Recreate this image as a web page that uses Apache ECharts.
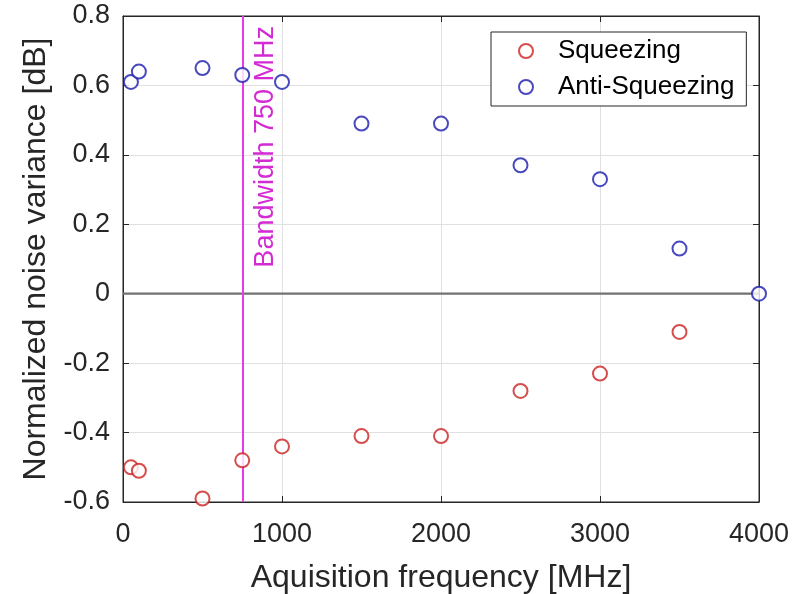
<!DOCTYPE html>
<html>
<head>
<meta charset="utf-8">
<script src="https://cdn.jsdelivr.net/npm/echarts@6/dist/echarts.min.js"></script>
<style>html,body{margin:0;padding:0;background:#fff;}#c{width:802px;height:594px;}</style>
</head>
<body>
<div id="c"></div>
<script>
const frequencies = [50, 100, 500, 750, 1000, 1500, 2000, 2500, 3000, 3500, 4000];
const squeezing = [-0.50, -0.51, -0.59, -0.48, -0.44, -0.41, -0.41, -0.28, -0.23, -0.11, null];
const antiSqueezing = [0.61, 0.64, 0.65, 0.63, 0.61, 0.49, 0.49, 0.37, 0.33, 0.13, 0.00];
const bandwidth = 750;
const bandwidthLabel = 'Bandwidth 750 MHz';
const xTitle = 'Aquisition frequency [MHz]';
const yTitle = 'Normalized noise variance [dB]';
const seriesNames = ['Squeezing', 'Anti-Squeezing'];
const xRange = [0, 4000];
const zeroLevel = 0;

const toPairs = vals => frequencies.map((f, i) => vals[i] === null ? null : [f, vals[i]]).filter(p => p);

const font = 'Liberation Sans, Arial, Helvetica, sans-serif';
const txt = '#262626';
const chart = echarts.init(document.getElementById('c'));

const xBase = {
  type: 'value', min: xRange[0], max: xRange[1], interval: 1000
};
const yBase = {
  type: 'value', min: -0.6, max: 0.8, interval: 0.2
};

chart.setOption({
  animation: false,
  backgroundColor: '#fff',
  grid: { left: 123, right: 43, top: 16, bottom: 92, show: true, borderColor: txt, borderWidth: 1,
    containLabel: false, outerBoundsMode: 'none' },
  xAxis: [
    Object.assign({}, xBase, {
      position: 'bottom',
      name: xTitle, nameLocation: 'middle', nameGap: 60,
      nameTextStyle: { fontFamily: font, fontSize: 32, color: txt },
      axisLine: { show: true, onZero: false, lineStyle: { color: txt, width: 1 } },
      axisTick: { show: true, inside: true, length: 6, lineStyle: { color: txt } },
      axisLabel: { fontFamily: font, fontSize: 27, color: txt, margin: 19,
        formatter: v => String(Math.round(v)) },
      splitLine: { show: true, lineStyle: { color: '#e0e0e0', width: 1 } }
    }),
    Object.assign({}, xBase, {
      position: 'top',
      axisLine: { show: true, onZero: false, lineStyle: { color: txt, width: 1 } },
      axisTick: { show: true, inside: true, length: 6, lineStyle: { color: txt } },
      axisLabel: { show: false },
      splitLine: { show: false }
    })
  ],
  yAxis: [
    Object.assign({}, yBase, {
      position: 'left',
      name: yTitle, nameLocation: 'middle', nameGap: 71,
      nameTextStyle: { fontFamily: font, fontSize: 32, color: txt },
      axisLine: { show: true, onZero: false, lineStyle: { color: txt, width: 1 } },
      axisTick: { show: true, inside: true, length: 6, lineStyle: { color: txt } },
      axisLabel: { fontFamily: font, fontSize: 27, color: txt, margin: 13,
        formatter: v => { const r = Math.round(v * 10) / 10; return r === 0 ? '0' : r.toFixed(1); } },
      splitLine: { show: true, lineStyle: { color: '#e0e0e0', width: 1 } }
    }),
    Object.assign({}, yBase, {
      position: 'right',
      axisLine: { show: true, onZero: false, lineStyle: { color: txt, width: 1 } },
      axisTick: { show: true, inside: true, length: 6, lineStyle: { color: txt } },
      axisLabel: { show: false },
      splitLine: { show: false }
    })
  ],
  legend: {
    orient: 'vertical',
    left: 491, top: 32,
    width: 254,
    padding: [6, 12, 6, 27],
    itemGap: 10,
    itemWidth: 14, itemHeight: 14,
    backgroundColor: '#fff',
    borderColor: txt, borderWidth: 1,
    textStyle: { fontFamily: font, fontSize: 26, color: '#000', padding: [0, 0, 0, 20] },
    data: seriesNames
  },
  series: [
    {
      name: 'zero', type: 'line', symbol: 'none', silent: true, z: 3,
      lineStyle: { color: '#727272', width: 2.2 },
      data: [[xRange[0], zeroLevel], [xRange[1], zeroLevel]]
    },
    {
      name: seriesNames[0], type: 'scatter', symbol: 'emptyCircle', symbolSize: 14,
      itemStyle: { color: '#cc2020', borderColor: '#cc2020', borderWidth: 1.8 },
      data: toPairs(squeezing), z: 5
    },
    {
      name: seriesNames[1], type: 'scatter', symbol: 'emptyCircle', symbolSize: 14,
      itemStyle: { color: '#1c1cac', borderColor: '#1c1cac', borderWidth: 1.8 },
      data: toPairs(antiSqueezing), z: 6,
      markLine: {
        silent: true, symbol: 'none', animation: false,
        lineStyle: { color: '#e83ae8', width: 2, type: 'solid' },
        label: {
          show: true, position: 'insideEndBottom', formatter: bandwidthLabel,
          fontFamily: font, fontSize: 27, color: '#d42ad4', distance: 10
        },
        data: [{ xAxis: bandwidth }]
      }
    }
  ]
});
</script>
</body>
</html>
